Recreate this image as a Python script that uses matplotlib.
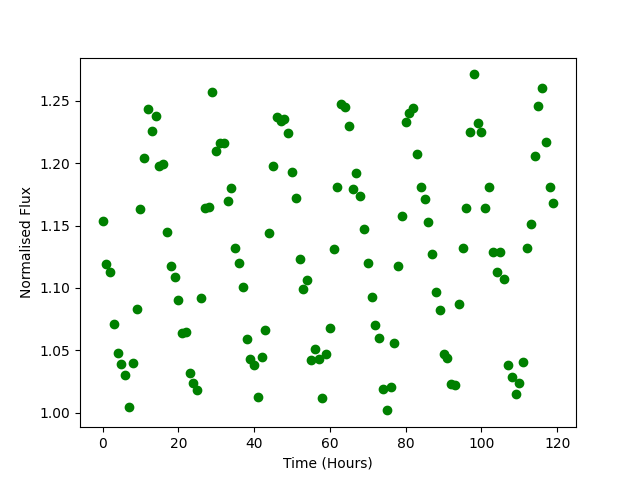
import numpy as np
import matplotlib
matplotlib.use('Agg')
import matplotlib.pyplot as plt

# hourly flux readings
time_hours = np.arange(120)
flux = [
    1.154, 1.119, 1.113, 1.071, 1.048, 1.039, 1.030, 1.005, 1.040, 1.083,
    1.163, 1.204, 1.243, 1.226, 1.238, 1.198, 1.199, 1.145, 1.118, 1.109,
    1.090, 1.064, 1.065, 1.032, 1.024, 1.018, 1.092, 1.164, 1.165, 1.257,
    1.210, 1.216, 1.216, 1.170, 1.180, 1.132, 1.120, 1.101, 1.059, 1.043,
    1.038, 1.013, 1.045, 1.066, 1.144, 1.198, 1.237, 1.234, 1.235, 1.224,
    1.193, 1.172, 1.123, 1.099, 1.106, 1.042, 1.051, 1.043, 1.012, 1.047,
    1.068, 1.131, 1.181, 1.247, 1.245, 1.230, 1.179, 1.192, 1.174, 1.147,
    1.120, 1.093, 1.070, 1.060, 1.019, 1.002, 1.021, 1.056, 1.118, 1.158,
    1.233, 1.240, 1.244, 1.207, 1.181, 1.171, 1.153, 1.127, 1.097, 1.082,
    1.047, 1.044, 1.023, 1.022, 1.087, 1.132, 1.164, 1.225, 1.271, 1.232,
    1.225, 1.164, 1.181, 1.129, 1.113, 1.129, 1.107, 1.038, 1.029, 1.015,
    1.024, 1.041, 1.132, 1.151, 1.206, 1.246, 1.260, 1.217, 1.181, 1.168,
]

plt.figure(figsize=(6.4, 4.8), dpi=100)
plt.plot(time_hours, flux, 'o', color='green')
plt.xlabel('Time (Hours)')
plt.ylabel('Normalised Flux')
plt.savefig('out.png')
